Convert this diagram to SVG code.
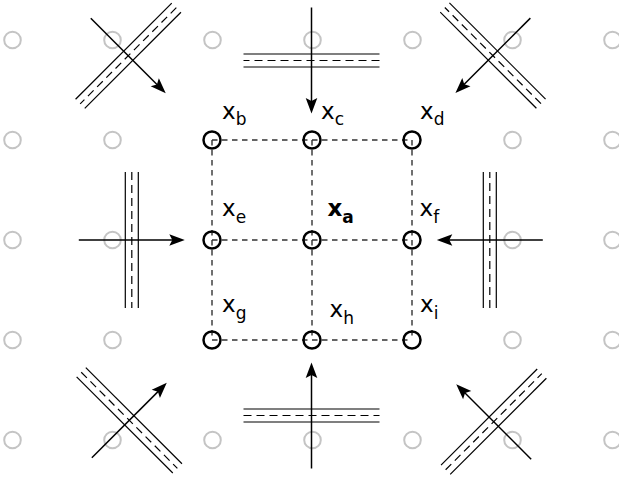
<svg xmlns="http://www.w3.org/2000/svg" width="619" height="477" viewBox="0 0 619 477">
<style>
.bg{fill:none;stroke:#c4c4c4;stroke-width:2}
.nd{fill:none;stroke:#000;stroke-width:2.5}
.ed{stroke:#333;stroke-width:1.4;stroke-dasharray:5.5 4.5;fill:none}
.road{stroke:#000;stroke-width:1.2}
.roadc{stroke:#000;stroke-width:1.2;stroke-dasharray:8 5}
.arr{stroke:#000;stroke-width:1.5}
.lbl{font-family:"DejaVu Sans",sans-serif;font-size:23px;fill:#000}
.b{font-weight:bold}
</style>
<defs>
<g id="unit">
<line class="road" x1="-6.5" y1="-68" x2="-6.5" y2="68"/>
<line class="road" x1="6.5" y1="-68" x2="6.5" y2="68"/>
<line class="roadc" x1="0" y1="-68" x2="0" y2="68"/>
<line class="arr" x1="-53" y1="0" x2="42" y2="0"/>
<path d="M53,0 L37.5,-5.8 L40.5,0 L37.5,5.8 Z" fill="#000"/>
</g>
</defs>
<g id="grid">
<circle class="bg" cx="12.5" cy="40" r="8.3"/><circle class="bg" cx="112.5" cy="40" r="8.3"/><circle class="bg" cx="212.5" cy="40" r="8.3"/><circle class="bg" cx="312.5" cy="40" r="8.3"/><circle class="bg" cx="412.5" cy="40" r="8.3"/><circle class="bg" cx="512.5" cy="40" r="8.3"/><circle class="bg" cx="612.5" cy="40" r="8.3"/>
<circle class="bg" cx="12.5" cy="140" r="8.3"/><circle class="bg" cx="112.5" cy="140" r="8.3"/><circle class="bg" cx="512.5" cy="140" r="8.3"/><circle class="bg" cx="612.5" cy="140" r="8.3"/>
<circle class="bg" cx="12.5" cy="240" r="8.3"/><circle class="bg" cx="112.5" cy="240" r="8.3"/><circle class="bg" cx="512.5" cy="240" r="8.3"/><circle class="bg" cx="612.5" cy="240" r="8.3"/>
<circle class="bg" cx="12.5" cy="340" r="8.3"/><circle class="bg" cx="112.5" cy="340" r="8.3"/><circle class="bg" cx="512.5" cy="340" r="8.3"/><circle class="bg" cx="612.5" cy="340" r="8.3"/>
<circle class="bg" cx="12.5" cy="440" r="8.3"/><circle class="bg" cx="112.5" cy="440" r="8.3"/><circle class="bg" cx="212.5" cy="440" r="8.3"/><circle class="bg" cx="312.5" cy="440" r="8.3"/><circle class="bg" cx="412.5" cy="440" r="8.3"/><circle class="bg" cx="512.5" cy="440" r="8.3"/><circle class="bg" cx="612.5" cy="440" r="8.3"/>
</g>
<g id="roads">
<use href="#unit" transform="translate(128.25,55.75) rotate(45)"/>
<use href="#unit" transform="translate(311.5,60.5) rotate(90)"/>
<use href="#unit" transform="translate(492.9,55.6) rotate(135)"/>
<use href="#unit" transform="translate(131.8,240) rotate(0)"/>
<use href="#unit" transform="translate(489.8,240) rotate(180)"/>
<use href="#unit" transform="translate(129.3,420.3) rotate(-45)"/>
<use href="#unit" transform="translate(311.5,415.5) rotate(-90)"/>
<use href="#unit" transform="translate(493.7,421.7) rotate(-135)"/>
</g>
<g id="connectors">
<line class="ed" x1="212" y1="140" x2="312" y2="140"/><line class="ed" x1="312" y1="140" x2="412" y2="140"/>
<line class="ed" x1="212" y1="240" x2="312" y2="240"/><line class="ed" x1="312" y1="240" x2="412" y2="240"/>
<line class="ed" x1="212" y1="340" x2="312" y2="340"/><line class="ed" x1="312" y1="340" x2="412" y2="340"/>
<line class="ed" x1="212" y1="140" x2="212" y2="240"/><line class="ed" x1="212" y1="240" x2="212" y2="340"/>
<line class="ed" x1="312" y1="140" x2="312" y2="240"/><line class="ed" x1="312" y1="240" x2="312" y2="340"/>
<line class="ed" x1="412" y1="140" x2="412" y2="240"/><line class="ed" x1="412" y1="240" x2="412" y2="340"/>
</g>
<g id="node-b"><circle class="nd" cx="212" cy="140" r="8.5"/><text class="lbl" x="222" y="119">x<tspan font-size="17" dy="6">b</tspan></text></g>
<g id="node-c"><circle class="nd" cx="312" cy="140" r="8.5"/><text class="lbl" x="321" y="119">x<tspan font-size="17" dy="6">c</tspan></text></g>
<g id="node-d"><circle class="nd" cx="412" cy="140" r="8.5"/><text class="lbl" x="420" y="119">x<tspan font-size="17" dy="6">d</tspan></text></g>
<g id="node-e"><circle class="nd" cx="212" cy="240" r="8.5"/><text class="lbl" x="222" y="216">x<tspan font-size="17" dy="7">e</tspan></text></g>
<g id="node-a"><circle class="nd" cx="312" cy="240" r="8.5"/><text class="lbl b" x="327.5" y="216">x<tspan font-size="17" dy="7">a</tspan></text></g>
<g id="node-f"><circle class="nd" cx="412" cy="240" r="8.5"/><text class="lbl" x="419.5" y="216">x<tspan font-size="17" dy="7">f</tspan></text></g>
<g id="node-g"><circle class="nd" cx="212" cy="340" r="8.5"/><text class="lbl" x="222" y="312">x<tspan font-size="17" dy="7">g</tspan></text></g>
<g id="node-h"><circle class="nd" cx="312" cy="340" r="8.5"/><text class="lbl" x="329.5" y="317">x<tspan font-size="17" dy="7">h</tspan></text></g>
<g id="node-i"><circle class="nd" cx="412" cy="340" r="8.5"/><text class="lbl" x="420" y="312">x<tspan font-size="17" dy="7">i</tspan></text></g>
</svg>
